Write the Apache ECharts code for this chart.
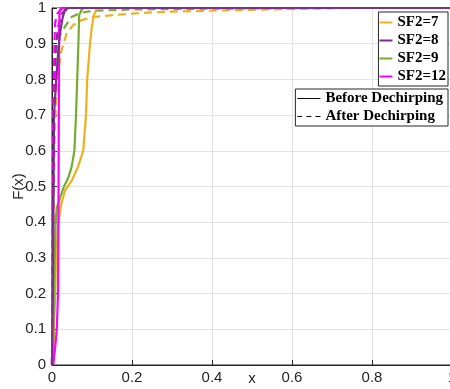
<!DOCTYPE html>
<html>
<head>
<meta charset="utf-8">
<script src="https://cdn.jsdelivr.net/npm/echarts@6/dist/echarts.min.js"></script>
<style>
  html, body { margin: 0; padding: 0; background: #fff; }
  #chart { width: 450px; height: 389px; }
</style>
</head>
<body>
<div id="chart"></div>
<script>
// Empirical CDF curves, [x, F(x)] pairs
const sf7Before = [[0.003,0],[0.005,0.1],[0.008,0.2],[0.01,0.3],[0.014,0.37],[0.018,0.415],[0.024,0.454],[0.033,0.49],[0.05,0.518],[0.065,0.555],[0.078,0.6],[0.085,0.7],[0.088,0.8],[0.095,0.9],[0.1,0.95],[0.105,0.98],[0.11,0.994],[0.12,1],[1,1]];
const sf8Before = [[0,0],[0.002,0.2],[0.004,0.5],[0.005,0.7],[0.01,0.79],[0.015,0.87],[0.02,0.93],[0.026,0.97],[0.032,0.994],[0.04,1],[1,1]];
const sf9Before = [[0.002,0],[0.005,0.15],[0.007,0.3],[0.009,0.4],[0.012,0.44],[0.022,0.475],[0.03,0.5],[0.041,0.525],[0.049,0.555],[0.056,0.6],[0.06,0.7],[0.063,0.8],[0.066,0.9],[0.068,0.98],[0.074,0.995],[0.08,1],[1,1]];
const sf12Before = [[0.003,0],[0.008,0.05],[0.012,0.1],[0.015,0.2],[0.016,0.4],[0.017,0.7],[0.018,0.95],[0.019,0.99],[0.022,1],[1,1]];

const sf7After = [[0,0],[0.003,0.3],[0.006,0.6],[0.009,0.72],[0.012,0.77],[0.017,0.83],[0.022,0.874],[0.037,0.93],[0.053,0.952],[0.074,0.966],[0.103,0.975],[0.153,0.98],[0.22,0.986],[0.3,0.99],[0.45,0.994],[0.6,0.997],[0.75,1],[1,1]];
const sf8After = [[0,0],[0.002,0.4],[0.004,0.7],[0.006,0.82],[0.01,0.9],[0.016,0.95],[0.025,0.985],[0.04,1],[1,1]];
const sf9After = [[0,0],[0.002,0.4],[0.004,0.7],[0.007,0.82],[0.012,0.89],[0.02,0.925],[0.032,0.947],[0.049,0.975],[0.07,0.986],[0.1,0.992],[0.2,0.996],[0.4,0.998],[0.65,1],[1,1]];
const sf12After = [[0,0],[0.002,0.4],[0.004,0.75],[0.006,0.9],[0.008,0.96],[0.014,0.985],[0.022,0.995],[0.03,1],[1,1]];

const sfNames = ['SF2=7', 'SF2=8', 'SF2=9', 'SF2=12'];
const stageNames = ['Before Dechirping', 'After Dechirping'];
const sfColors = ['#EDB120', '#7E2F8E', '#77AC30', '#FF00FF'];

const axisColor = '#262626';
const gridColor = '#e3e3e3';
const dash = [8, 5];

// legend key glyphs: a plain stroke and a three-dash stroke
const solidKey = 'path://M0,0h24v1h-24z';
const dashedKey = 'path://M0,0h5v1h-5z M9.5,0h5v1h-5z M19,0h5v1h-5z';

function curve(name, data, color, dashed) {
  return {
    name: name,
    type: 'line',
    data: data,
    symbol: 'none',
    showSymbol: false,
    color: color,
    lineStyle: { color: color, width: 2.2, type: dashed ? dash : 'solid' },
    emphasis: { disabled: true },
    silent: true
  };
}

const series = [
  curve('SF2=7 after', sf7After, sfColors[0], true),
  curve('SF2=9 after', sf9After, sfColors[2], true),
  curve('SF2=8 after', sf8After, sfColors[1], true),
  curve('SF2=12 after', sf12After, sfColors[3], true),
  curve(sfNames[0], sf7Before, sfColors[0], false),
  curve(sfNames[2], sf9Before, sfColors[2], false),
  curve(sfNames[3], sf12Before, sfColors[3], false),
  curve(sfNames[1], sf8Before, sfColors[1], false),
  // entries for the second legend box
  { name: stageNames[0], type: 'line', data: [], symbol: 'none', color: '#000' },
  { name: stageNames[1], type: 'line', data: [], symbol: 'none', color: '#000' }
];

const legendText = {
  fontFamily: 'Liberation Serif',
  fontWeight: 'bold',
  fontSize: 15,
  color: '#000',
  lineHeight: 15
};

const chart = echarts.init(document.getElementById('chart'), null, { renderer: 'canvas' });
chart.setOption({
  animation: false,
  backgroundColor: '#fff',
  grid: {
    left: 52, right: -2, top: 8, bottom: 24,
    containLabel: false, outerBoundsMode: 'none',
    show: true, borderColor: axisColor, borderWidth: 1, backgroundColor: 'transparent'
  },
  legend: [
    {
      data: sfNames.map(n => ({ name: n, icon: 'rect' })),
      orient: 'vertical',
      right: 2, top: 12,
      itemWidth: 13, itemHeight: 2, itemGap: 3,
      padding: [3, 2, 2, 1],
      borderColor: axisColor, borderWidth: 1, backgroundColor: '#fff',
      textStyle: legendText,
      selectedMode: false
    },
    {
      data: [
        { name: stageNames[0], icon: solidKey },
        { name: stageNames[1], icon: dashedKey }
      ],
      orient: 'vertical',
      right: 2, top: 89,
      itemWidth: 23, itemHeight: 1.2, itemGap: 3,
      padding: [2, 5, 2, 2],
      borderColor: axisColor, borderWidth: 1, backgroundColor: '#fff',
      textStyle: legendText,
      selectedMode: false
    }
  ],
  xAxis: {
    type: 'value',
    min: 0, max: 1, interval: 0.2,
    name: 'x', nameLocation: 'middle', nameGap: 6, nameMoveOverlap: false,
    nameTextStyle: { fontFamily: 'Liberation Sans', fontSize: 15, color: axisColor },
    axisLine: { show: true, lineStyle: { color: axisColor, width: 1 } },
    axisTick: { show: true, inside: true, length: 5, lineStyle: { color: axisColor } },
    axisLabel: { fontFamily: 'Liberation Sans', fontSize: 15, color: axisColor, margin: 5,
      formatter: v => String(Math.round(v * 10) / 10) },
    splitLine: { show: true, lineStyle: { color: gridColor, width: 1 } }
  },
  yAxis: {
    type: 'value',
    min: 0, max: 1, interval: 0.1,
    name: 'F(x)', nameLocation: 'middle', nameGap: 26, nameMoveOverlap: false,
    nameTextStyle: { fontFamily: 'Liberation Sans', fontSize: 15, color: axisColor },
    axisLine: { show: true, lineStyle: { color: axisColor, width: 1 } },
    axisTick: { show: true, inside: true, length: 5, lineStyle: { color: axisColor } },
    axisLabel: { fontFamily: 'Liberation Sans', fontSize: 15, color: axisColor, margin: 6,
      formatter: v => String(Math.round(v * 10) / 10) },
    splitLine: { show: true, lineStyle: { color: gridColor, width: 1 } }
  },
  series: series
});
</script>
</body>
</html>
